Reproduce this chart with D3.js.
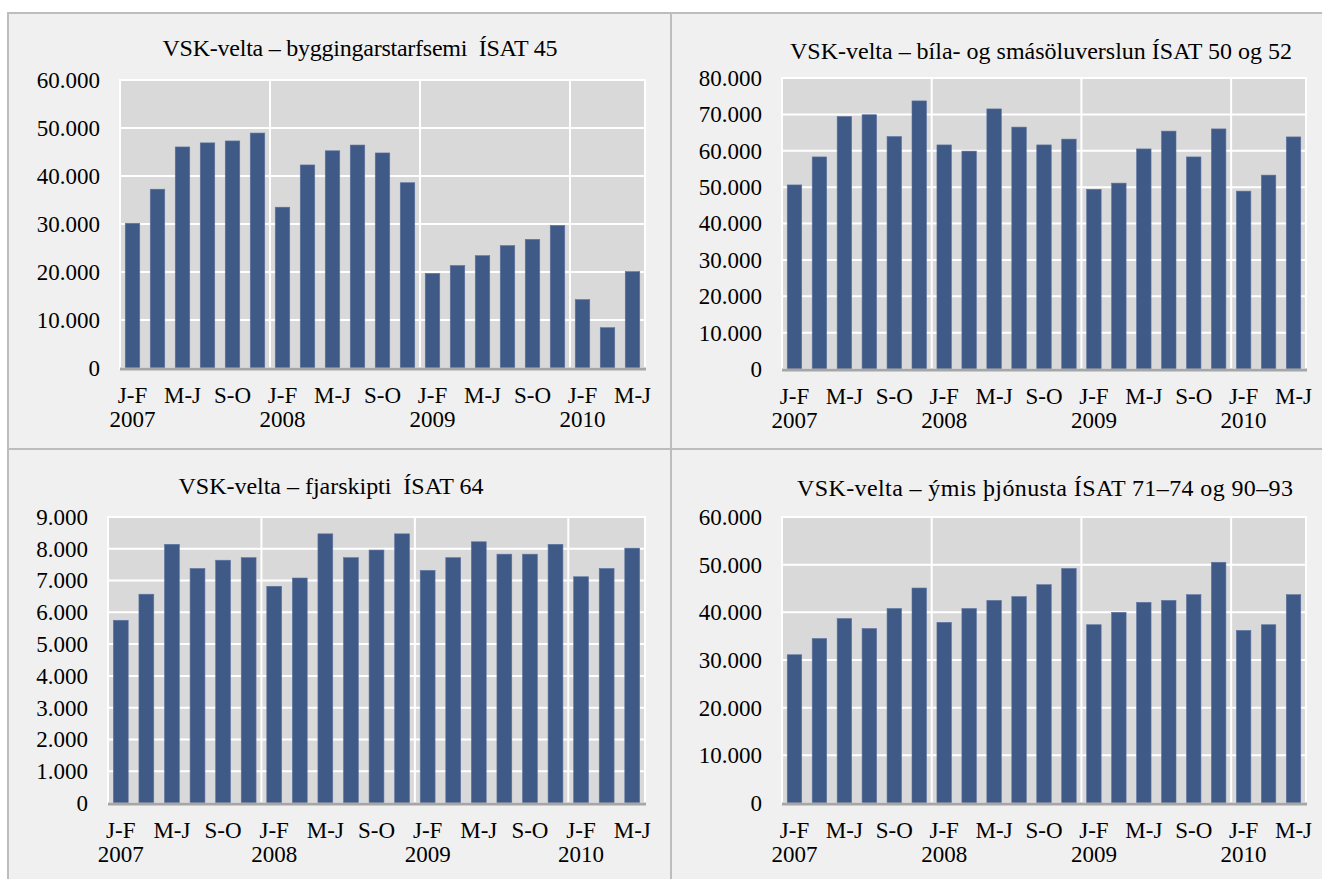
<!DOCTYPE html>
<html><head><meta charset="utf-8">
<script src="https://cdn.jsdelivr.net/npm/d3@7"></script>
<style>
body{margin:0;background:#fff;}
svg{display:block;font-family:"Liberation Serif","Times New Roman",serif;}
</style>
</head><body><svg id="c" width="1322" height="879"></svg>
<script>
// ---------- data ----------
const categories = [
  "2007 J-F","2007 M-A","2007 M-J","2007 J-Á","2007 S-O","2007 N-D",
  "2008 J-F","2008 M-A","2008 M-J","2008 J-Á","2008 S-O","2008 N-D",
  "2009 J-F","2009 M-A","2009 M-J","2009 J-Á","2009 S-O","2009 N-D",
  "2010 J-F","2010 M-A","2010 M-J"
];
const periodLabels = ["J-F","","M-J","","S-O","","J-F","","M-J","","S-O","","J-F","","M-J","","S-O","","J-F","","M-J"];
const yearLabels = ["2007","","","","","","2008","","","","","","2009","","","","","","2010","",""];

const byggingarstarfsemi = [30150,37250,46050,46900,47300,48950,33500,42300,45250,46450,44800,38600,19700,21350,23400,25500,26800,29700,14250,8400,20100];
const bilaSmasolu = [50600,58300,69400,69900,63900,73700,61600,59900,71500,66500,61600,63200,49400,51100,60500,65400,58300,66000,48900,53300,63800];
const fjarskipti = [5750,6570,8140,7380,7640,7720,6820,7080,8470,7720,7960,8470,7320,7720,8220,7830,7830,8140,7120,7380,8020];
const ymisThjonusta = [31100,34500,38700,36600,40800,45100,37900,40800,42500,43300,45800,49200,37400,40000,42100,42500,43700,50500,36200,37400,43700];

const titles = [
  "VSK-velta – byggingarstarfsemi  ÍSAT 45",
  "VSK-velta – bíla- og smásöluverslun ÍSAT 50 og 52",
  "VSK-velta – fjarskipti  ÍSAT 64",
  "VSK-velta – ýmis þjónusta ÍSAT 71–74 og 90–93"
];
const yTicks1 = [0,10000,20000,30000,40000,50000,60000];
const yTicks2 = [0,10000,20000,30000,40000,50000,60000,70000,80000];
const yTicks3 = [0,1000,2000,3000,4000,5000,6000,7000,8000,9000];
const yTicks4 = [0,10000,20000,30000,40000,50000,60000];
const yearStarts = ["2008 J-F","2009 J-F","2010 J-F"];

// ---------- layout ----------
const panels = [
  {values: byggingarstarfsemi, title: titles[0], ticks: yTicks1, x0:120, x1:645, y0:80,  y1:368, tx:360,  ty:48,  tw:395},
  {values: bilaSmasolu,        title: titles[1], ticks: yTicks2, x0:782, x1:1306, y0:78, y1:369, tx:1041, ty:51,  tw:502},
  {values: fjarskipti,         title: titles[2], ticks: yTicks3, x0:108, x1:645, y0:517, y1:803, tx:331,  ty:486, tw:305},
  {values: ymisThjonusta,      title: titles[3], ticks: yTicks4, x0:782, x1:1306, y0:517, y1:803, tx:1045, ty:488, tw:496}
];

const fmt = d3.formatLocale({decimal:",", thousands:".", grouping:[3], currency:["",""]}).format(",d");

const svg = d3.select("#c");
// outer frame
svg.append("rect").attr("x",8).attr("y",13).attr("width",1330).attr("height",880)
  .attr("fill","#f0f0f0").attr("stroke","#bdbdbd").attr("stroke-width",2);
svg.append("line").attr("x1",671).attr("x2",671).attr("y1",13).attr("y2",879)
  .attr("stroke","#bdbdbd").attr("stroke-width",2);
svg.append("line").attr("x1",8).attr("x2",1322).attr("y1",449).attr("y2",449)
  .attr("stroke","#bdbdbd").attr("stroke-width",2);

const FS = 23;

panels.forEach(p => {
  const g = svg.append("g");
  const x = d3.scaleBand().domain(categories).range([p.x0, p.x1]).paddingInner(0.42).paddingOuter(0.21);
  const y = d3.scaleLinear().domain([0, d3.max(p.ticks)]).range([p.y1, p.y0]);

  // plot background
  g.append("rect").attr("x",p.x0).attr("y",p.y0).attr("width",p.x1-p.x0).attr("height",p.y1-p.y0)
    .attr("fill","#d9d9d9").attr("stroke","#ffffff").attr("stroke-width",2);

  // horizontal gridlines
  g.append("g").selectAll("line").data(p.ticks.slice(1)).join("line")
    .attr("x1",p.x0).attr("x2",p.x1).attr("y1",d=>y(d)).attr("y2",d=>y(d))
    .attr("stroke","#ffffff").attr("stroke-width",2);

  // vertical year separators
  const step = x.step();
  g.append("g").selectAll("line").data(yearStarts).join("line")
    .attr("x1",d=>x(d) - step*x.paddingInner()/2).attr("x2",d=>x(d) - step*x.paddingInner()/2)
    .attr("y1",p.y0).attr("y2",p.y1)
    .attr("stroke","#ffffff").attr("stroke-width",2);

  // bars
  g.append("g").selectAll("rect").data(p.values).join("rect")
    .attr("x",(d,i)=>x(categories[i])).attr("width",x.bandwidth())
    .attr("y",d=>y(d)).attr("height",d=>y(0)-y(d))
    .attr("fill","#405a88").attr("stroke","#5b73a0").attr("stroke-width",0.6);

  // x axis line
  g.append("line").attr("x1",p.x0).attr("x2",p.x1+1).attr("y1",p.y1+1).attr("y2",p.y1+1)
    .attr("stroke","#a6a6a6").attr("stroke-width",3);

  // y axis labels
  const yAxis = d3.axisLeft(y).tickValues(p.ticks).tickFormat(fmt).tickSize(0).tickPadding(20);
  const ya = g.append("g").attr("transform",`translate(${p.x0},0)`).call(yAxis);
  ya.select(".domain").remove();
  ya.selectAll("text").attr("font-size",FS).attr("fill","#000").attr("font-family","Liberation Serif");

  // x axis labels
  const xAxis = d3.axisBottom(x).tickSize(0).tickPadding(0).tickFormat((d,i)=>periodLabels[i]);
  const xa = g.append("g").attr("transform",`translate(0,${p.y1})`).call(xAxis);
  xa.select(".domain").remove();
  xa.selectAll("text").attr("font-size",FS).attr("fill","#000").attr("font-family","Liberation Serif")
    .attr("dy",null).attr("y",27).attr("dominant-baseline","central");
  g.append("g").selectAll("text").data(categories).join("text")
    .attr("x",d=>x(d)+x.bandwidth()/2).attr("y",p.y1+51).attr("text-anchor","middle")
    .attr("dominant-baseline","central").attr("font-size",FS)
    .text((d,i)=>yearLabels[i]);

  // title
  g.append("text").attr("x",p.tx).attr("y",p.ty).attr("text-anchor","middle")
    .attr("dominant-baseline","central").attr("font-size",24).attr("fill","#000")
    .attr("textLength",p.tw).attr("lengthAdjust","spacing")
    .attr("xml:space","preserve").style("white-space","pre")
    .text(p.title);
});
</script>
</body></html>
